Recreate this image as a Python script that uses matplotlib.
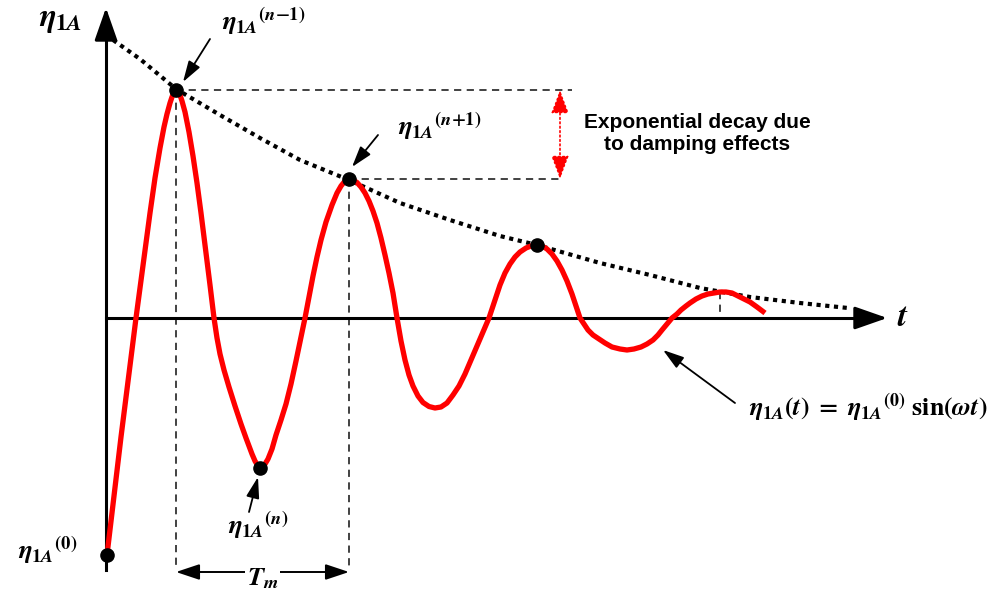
import numpy as np
import matplotlib.pyplot as plt

plt.rcParams['mathtext.fontset'] = 'stix'
plt.rcParams['font.family'] = ['Liberation Sans', 'DejaVu Sans']

# damped free response, sampled along the curve
t_vals = [0.01, 0.15, 0.30,
          0.44, 0.49, 0.54, 0.58, 0.61, 0.64, 0.66, 0.68, 0.70,
          0.72, 0.74, 0.76, 0.79, 0.83, 0.87, 0.91, 0.95, 0.99, 1.04, 1.08,
          1.11, 1.14, 1.18, 1.23, 1.29, 1.35, 1.40, 1.43, 1.46, 1.49, 1.52, 1.54,
          1.56, 1.59, 1.62, 1.66, 1.70, 1.75, 1.80, 1.85, 1.90, 1.94, 1.99,
          2.03, 2.07, 2.11, 2.15, 2.20, 2.26, 2.31, 2.35, 2.39, 2.43,
          2.47, 2.51, 2.55, 2.59, 2.63, 2.67, 2.71, 2.75, 2.79, 2.83, 2.87, 2.91,
          2.95, 2.99, 3.03, 3.07, 3.12, 3.17, 3.23, 3.29,
          3.35, 3.41, 3.47, 3.53, 3.59, 3.65, 3.71, 3.77, 3.83,
          3.89, 3.94, 3.99, 4.04, 4.09, 4.14, 4.20, 4.25, 4.31,
          4.36, 4.41, 4.46, 4.51, 4.56, 4.61, 4.66, 4.70, 4.74,
          4.78, 4.82, 4.87, 4.93, 4.99, 5.06, 5.14, 5.21,
          5.28, 5.35, 5.41, 5.47, 5.52, 5.56, 5.61, 5.66,
          5.71, 5.75, 5.80, 5.84, 5.90, 5.96, 6.02, 6.08, 6.14,
          6.20, 6.26, 6.32, 6.38, 6.44, 6.51, 6.59]
eta_vals = [-2.37, -1.19, 0.00,
            1.05, 1.40, 1.70, 1.91, 2.04, 2.15, 2.21, 2.26, 2.28,
            2.265, 2.23, 2.17, 2.06, 1.86, 1.62, 1.35, 1.05, 0.73, 0.33, 0.00,
            -0.20, -0.36, -0.52, -0.69, -0.88, -1.06, -1.20, -1.28, -1.36, -1.43, -1.48, -1.50,
            -1.49, -1.46, -1.41, -1.31, -1.17, -1.02, -0.86, -0.66, -0.43, -0.24, 0.00,
            0.21, 0.42, 0.61, 0.78, 0.96, 1.13, 1.25, 1.32, 1.37, 1.39,
            1.38, 1.355, 1.31, 1.25, 1.17, 1.07, 0.95, 0.80, 0.63, 0.45, 0.25, 0.00,
            -0.23, -0.42, -0.57, -0.68, -0.78, -0.845, -0.885, -0.90,
            -0.89, -0.85, -0.77, -0.68, -0.56, -0.42, -0.28, -0.14, 0.00,
            0.18, 0.33, 0.45, 0.54, 0.61, 0.66, 0.70, 0.72, 0.73,
            0.72, 0.69, 0.64, 0.57, 0.48, 0.37, 0.24, 0.12, 0.00,
            -0.06, -0.12, -0.17, -0.21, -0.25, -0.29, -0.31, -0.32,
            -0.31, -0.29, -0.26, -0.22, -0.17, -0.12, -0.06, 0.00,
            0.04, 0.08, 0.12, 0.15, 0.19, 0.22, 0.24, 0.25, 0.26,
            0.26, 0.25, 0.22, 0.19, 0.16, 0.11, 0.05]

# envelope through the peaks
env_t = [0.00, 0.34, 0.70, 1.14, 1.54, 1.94, 2.43, 2.94, 3.44, 3.94, 4.31, 4.94,
         5.44, 5.94, 6.44, 6.94, 7.42]
env_eta = [2.83, 2.59, 2.29, 2.03, 1.80, 1.58, 1.38, 1.15, 0.98, 0.82, 0.73, 0.55,
           0.43, 0.30, 0.21, 0.15, 0.10]

# marked extrema: eta(0), eta(n-1), eta(n), eta(n+1), next peak
mark_t = [0.01, 0.70, 1.54, 2.43, 4.31]
mark_eta = [-2.37, 2.28, -1.50, 1.39, 0.73]
last_peak = (6.14, 0.26)


def eta_label(sup=None):
    base = r'\boldsymbol{\eta}_{\mathbf{1}\boldsymbol{A}}'
    if sup is None:
        return '$' + base + '$'
    return '${' + base + '}^{' + sup + '}$'


fig = plt.figure(figsize=(9.99, 5.96), dpi=100)
ax = fig.add_axes([0, 0, 1, 1])
ax.set_xlim(-1.06, 8.93)
ax.set_ylim(-2.78, 3.18)
ax.axis('off')

# axes with arrow heads
head = dict(arrowstyle='-|>,head_length=1.0,head_width=0.35', color='black',
            lw=2.2, mutation_scale=20)
ax.plot([0, 0], [-2.52, 2.9], color='black', lw=2.2, zorder=2)
ax.annotate('', xy=(0, 3.13), xytext=(0, 2.8), arrowprops=head, zorder=2)
ax.plot([0, 7.6], [0, 0], color='black', lw=2.2, zorder=2)
ax.annotate('', xy=(7.84, 0), xytext=(7.5, 0), arrowprops=head, zorder=2)

# guide lines
dash = dict(color='#333333', lw=1.3, ls=(0, (4, 3)), zorder=1)
ax.plot([mark_t[1], mark_t[1]], [mark_eta[1], -2.50], **dash)
ax.plot([mark_t[3], mark_t[3]], [mark_eta[3], -2.50], **dash)
ax.plot([last_peak[0], last_peak[0]], [last_peak[1], 0], **dash)
ax.plot([mark_t[1], 4.66], [mark_eta[1], mark_eta[1]], **dash)
ax.plot([mark_t[3], 4.54], [mark_eta[3], mark_eta[3]], **dash)

ax.plot(env_t, env_eta, color='black', lw=3.0, ls=(0, (1, 1.1)), zorder=3)
ax.plot(t_vals, eta_vals, color='red', lw=3.8, solid_capstyle='butt',
        solid_joinstyle='round', zorder=4)
ax.scatter(mark_t, mark_eta, s=90, color='black', zorder=5)

# decay range marker
ax.annotate('', xy=(4.54, mark_eta[1]), xytext=(4.54, mark_eta[3]),
            arrowprops=dict(arrowstyle='<|-|>,head_length=0.8,head_width=0.3',
                            color='red', lw=1.2, ls=':', mutation_scale=18,
                            shrinkA=0, shrinkB=0))
ax.text(5.91, 1.85, 'Exponential decay due\nto damping effects', ha='center',
        va='center', fontsize=15, fontweight='bold', linespacing=1.2)

# period marker
ax.annotate('', xy=(mark_t[1], -2.54), xytext=(mark_t[3], -2.54),
            arrowprops=dict(arrowstyle='<|-|>,head_length=0.9,head_width=0.3',
                            color='black', lw=1.4, mutation_scale=16, shrinkA=0,
                            shrinkB=0))
ax.text(1.565, -2.61, r'$\boldsymbol{T}_{\boldsymbol{m}}$', ha='center', va='center',
        fontsize=19, bbox=dict(facecolor='white', edgecolor='none', pad=1), zorder=6)

# labels
ax.text(-0.46, 2.98, eta_label(), ha='center', va='center', fontsize=23)
ax.text(7.97, 0.0, r'$\boldsymbol{t}$', ha='center', va='center', fontsize=24)
ax.text(-0.58, -2.33, eta_label(r'\mathbf{(0)}'), ha='center', va='center',
        fontsize=19)

arrow = dict(arrowstyle='-|>,head_length=0.8,head_width=0.25', color='black',
             lw=1.3, mutation_scale=16, shrinkA=0, shrinkB=0)
ax.annotate('', xy=(0.77, 2.36), xytext=(1.04, 2.79), arrowprops=arrow)
ax.text(1.58, 2.96, eta_label(r'\mathbf{(}\boldsymbol{n}\mathbf{-1)}'),
        ha='center', va='center', fontsize=19)
ax.annotate('', xy=(2.46, 1.51), xytext=(2.72, 1.83), arrowprops=arrow)
ax.text(3.34, 1.91, eta_label(r'\mathbf{(}\boldsymbol{n}\mathbf{+1)}'),
        ha='center', va='center', fontsize=19)
ax.annotate('', xy=(1.52, -1.59), xytext=(1.43, -1.94), arrowprops=arrow)
ax.text(1.52, -2.08, eta_label(r'\mathbf{(}\boldsymbol{n}\mathbf{)}'),
        ha='center', va='center', fontsize=19)
ax.annotate('', xy=(5.57, -0.32), xytext=(6.29, -0.85), arrowprops=arrow)
ax.text(7.62, -0.90,
        r'$\boldsymbol{\eta}_{\mathbf{1}\boldsymbol{A}}\mathbf{(}\boldsymbol{t}\mathbf{)}'
        r'\ \mathbf{=}\ {\boldsymbol{\eta}_{\mathbf{1}\boldsymbol{A}}}^{\mathbf{(0)}}'
        r'\ \mathbf{sin(}\boldsymbol{\omega}\boldsymbol{t}\mathbf{)}$',
        ha='center', va='center', fontsize=18.5)

fig.savefig('out.png', dpi=100)
